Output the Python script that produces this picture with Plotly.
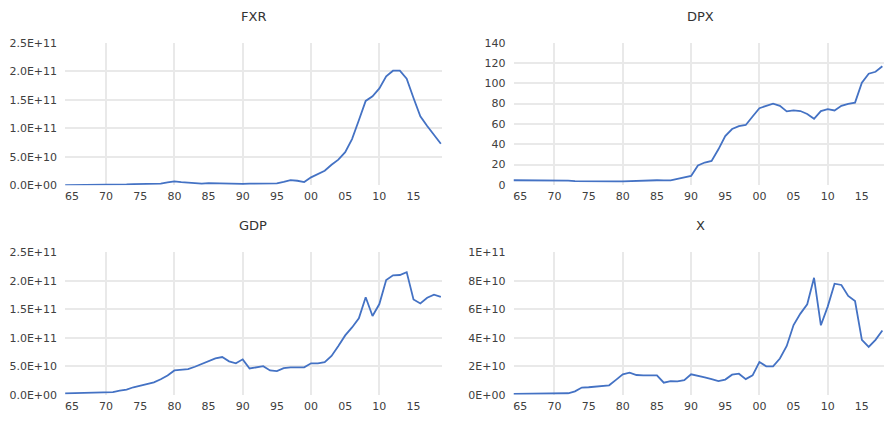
import plotly.graph_objects as go

W, H = 884, 423

years = list(range(1964, 2020))

fxr = [0.05e10, 0.05e10, 0.06e10, 0.06e10, 0.07e10, 0.07e10, 0.08e10, 0.08e10, 0.1e10, 0.15e10,
       0.2e10, 0.25e10, 0.25e10, 0.28e10, 0.3e10, 0.5e10, 0.68e10, 0.55e10, 0.45e10, 0.4e10,
       0.3e10, 0.4e10, 0.35e10, 0.4e10, 0.3e10, 0.3e10, 0.25e10, 0.3e10, 0.3e10, 0.35e10,
       0.4e10, 0.35e10, 0.6e10, 0.9e10, 0.8e10, 0.57e10, 1.4e10, 2.0e10, 2.55e10, 3.6e10,
       4.5e10, 5.8e10, 8.1e10, 11.4e10, 14.8e10, 15.6e10, 17.0e10, 19.1e10, 20.1e10, 20.1e10,
       18.7e10, 15.3e10, 12.1e10, 10.4e10, 8.8e10, 7.3e10]

dpx = [4.5, 4.5, 4.5, 4.5, 4.5, 4.5, 4.5, 4.5, 4.2, 3.6,
       3.7, 3.6, 3.8, 3.7, 3.6, 3.5, 3.5, 3.8, 4.0, 4.2,
       4.4, 4.5, 4.3, 4.4, 5.8, 7.5, 8.8, 19.0, 22.0, 23.5,
       35.0, 48.0, 55.0, 57.8, 59.0, 67.3, 75.5, 77.8, 80.0, 77.8,
       72.4, 73.3, 72.7, 69.8, 65.0, 72.7, 74.6, 73.3, 77.8, 79.7,
       81.0, 100.6, 109.5, 111.4, 116.8, None]

gdp = [0.23e10, 0.25e10, 0.3e10, 0.32e10, 0.35e10, 0.4e10, 0.45e10, 0.45e10, 0.7e10, 0.9e10,
       1.3e10, 1.6e10, 1.8e10, 2.15e10, 2.7e10, 3.35e10, 4.25e10, 4.4e10, 4.5e10, 4.9e10,
       5.4e10, 5.8e10, 6.35e10, 6.6e10, 5.85e10, 5.5e10, 6.2e10, 4.6e10, 4.8e10, 5.0e10,
       4.25e10, 4.15e10, 4.65e10, 4.8e10, 4.8e10, 4.8e10, 5.5e10, 5.5e10, 5.7e10, 6.8e10,
       8.55e10, 10.4e10, 11.8e10, 13.4e10, 17.1e10, 13.8e10, 15.9e10, 20.1e10, 20.95e10, 21.0e10,
       21.5e10, 16.7e10, 16.0e10, 17.0e10, 17.55e10, 17.15e10]

xexp = [0.05e10, 0.05e10, 0.05e10, 0.05e10, 0.06e10, 0.06e10, 0.07e10, 0.07e10, 0.1e10, 0.23e10,
        0.5e10, 0.52e10, 0.57e10, 0.63e10, 0.66e10, 1.04e10, 1.43e10, 1.54e10, 1.38e10, 1.36e10,
        1.36e10, 1.36e10, 0.84e10, 0.95e10, 0.93e10, 1.02e10, 1.43e10, 1.34e10, 1.22e10, 1.09e10,
        0.95e10, 1.06e10, 1.40e10, 1.47e10, 1.09e10, 1.36e10, 2.29e10, 1.99e10, 1.99e10, 2.54e10,
        3.42e10, 4.89e10, 5.69e10, 6.34e10, 8.2e10, 4.87e10, 6.18e10, 7.79e10, 7.70e10, 6.93e10,
        6.57e10, 3.85e10, 3.35e10, 3.85e10, 4.5e10, None]

titles = ["FXR", "DPX", "GDP", "X"]

x_tickvals = list(range(1965, 2020, 5))
x_ticktext = ["65", "70", "75", "80", "85", "90", "95", "00", "05", "10", "15"]
x_gridvals = [1970, 1980, 1990, 2000, 2010]

fxr_ticks = [0, 5e10, 1e11, 1.5e11, 2e11, 2.5e11]
fxr_text = ["0.0E+00", "5.0E+10", "1.0E+11", "1.5E+11", "2.0E+11", "2.5E+11"]
dpx_ticks = [0, 20, 40, 60, 80, 100, 120, 140]
dpx_text = ["0", "20", "40", "60", "80", "100", "120", "140"]
gdp_ticks = [0, 5e10, 1e11, 1.5e11, 2e11, 2.5e11]
gdp_text = ["0.0E+00", "5.0E+10", "1.0E+11", "1.5E+11", "2.0E+11", "2.5E+11"]
x_ticks = [0, 2e10, 4e10, 6e10, 8e10, 1e11]
x_text = ["0E+00", "2E+10", "4E+10", "6E+10", "8E+10", "1E+11"]

LINE = "#4472C4"
GRID = "#E9E9E9"
TXT = "#404040"
FONT = "DejaVu Sans"

def px_x(p):
    return p / W

def px_y(p):
    return 1 - p / H

panels = [
    # (series, yticks, ytext, xdom px, ydom px, xrange)
    (fxr, fxr_ticks, fxr_text, (65.1, 442), (185, 37.9), (1964, 2019.17)),
    (dpx, dpx_ticks, dpx_text, (513.5, 884), (184.5, 37.9), (1964, 2018.24)),
    (gdp, gdp_ticks, gdp_text, (65.1, 442), (401, 254), (1964, 2019.17)),
    (xexp, x_ticks, x_text, (513.5, 884), (401, 254), (1964, 2018.24)),
]

fig = go.Figure()
layout = dict(
    width=W, height=H,
    margin=dict(l=0, r=0, t=0, b=0),
    paper_bgcolor="white", plot_bgcolor="white",
    showlegend=False,
    font=dict(family=FONT, size=11, color=TXT),
    annotations=[],
)

for i, (ser, yt, ytx, xd, yd, xr) in enumerate(panels):
    n = "" if i == 0 else str(i + 1)
    fig.add_trace(go.Scatter(
        x=years, y=ser, mode="lines",
        line=dict(color=LINE, width=1.8),
        xaxis="x" + n, yaxis="y" + n, connectgaps=False,
        hoverinfo="skip",
    ))
    ymax = yt[-1]
    layout["xaxis" + n] = dict(
        domain=[px_x(xd[0]), px_x(xd[1])], range=list(xr),
        anchor="y" + n,
        tickmode="array", tickvals=x_tickvals, ticktext=x_ticktext,
        showgrid=False, zeroline=False, showline=False, ticks="",
        ticklabelstandoff=3,
        tickfont=dict(family=FONT, size=11, color=TXT),
        minor=dict(tickmode="array", tickvals=x_gridvals, showgrid=True,
                   gridcolor=GRID, gridwidth=1.5, ticks=""),
        fixedrange=True,
    )
    layout["yaxis" + n] = dict(
        domain=[px_y(yd[0]), px_y(yd[1])], range=[0, ymax],
        anchor="x" + n,
        tickmode="array", tickvals=yt, ticktext=ytx,
        showgrid=False, zeroline=False, showline=False, ticks="",
        ticklabelstandoff=7,
        tickfont=dict(family=FONT, size=11, color=TXT),
        minor=dict(tickmode="array", tickvals=yt[1:-1], showgrid=True,
                   gridcolor=GRID, gridwidth=1.5, ticks=""),
        fixedrange=True,
    )
    cx = ((65 + 442) / 2) if i % 2 == 0 else 700
    cy = 11 if i < 2 else 226
    layout["annotations"].append(dict(
        text=titles[i], x=px_x(cx), y=px_y(cy), xref="paper", yref="paper",
        xanchor="center", yanchor="middle", showarrow=False,
        font=dict(family=FONT, size=13, color="#333333"),
    ))

fig.update_layout(**layout)
fig.write_html("out.html", config={"displayModeBar": False},
               post_script="document.body.style.margin='0';")
